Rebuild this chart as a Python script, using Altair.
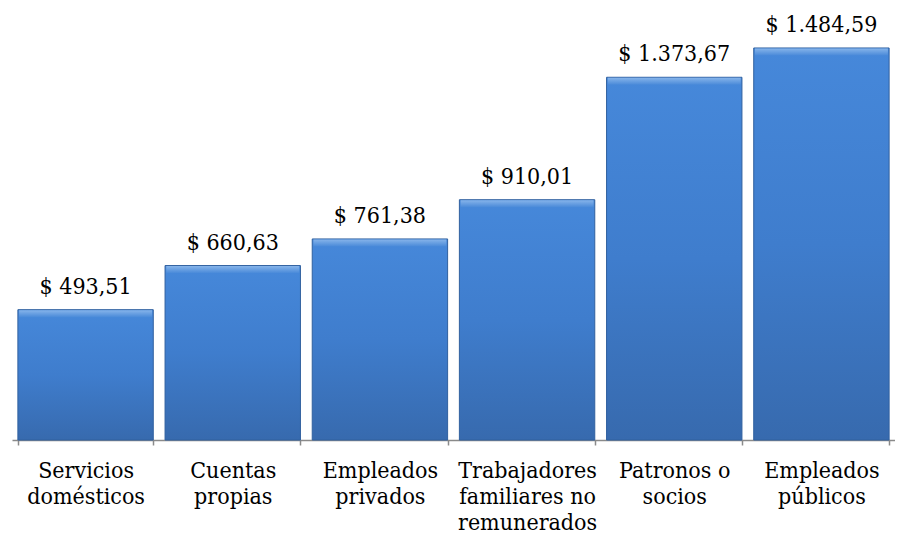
import altair as alt
import pandas as pd

categories = [
    "Servicios\ndomésticos",
    "Cuentas\npropias",
    "Empleados\nprivados",
    "Trabajadores\nfamiliares no\nremunerados",
    "Patronos o\nsocios",
    "Empleados\npúblicos",
]
values = [493.51, 660.63, 761.38, 910.01, 1373.67, 1484.59]
value_labels = ["$ 493,51", "$ 660,63", "$ 761,38", "$ 910,01", "$ 1.373,67", "$ 1.484,59"]

df = pd.DataFrame({"cat": categories, "val": values, "lab": value_labels})

FONT = "DejaVu Serif Condensed"

x = alt.X(
    "cat:N",
    sort=None,
    title=None,
    scale=alt.Scale(paddingInner=0.08, paddingOuter=0.04),
    axis=alt.Axis(
        labelExpr="split(datum.label, '\\n')",
        labelAngle=0,
        labelFont=FONT,
        labelFontSize=23,
        labelLineHeight=26,
        labelColor="#000000",
        labelPadding=14,
        labelLimit=0,
        tickBand="extent",
        tickSize=5,
        tickColor="#8a8a8a",
        tickWidth=1.5,
        domainColor="#8a8a8a",
        domainWidth=1.5,
    ),
)
y = alt.Y(
    "val:Q",
    title=None,
    scale=alt.Scale(domain=[0, 1636], nice=False, zero=True),
    axis=None,
)

base = alt.Chart(df)

bars = base.mark_bar(
    color=alt.Gradient(
        gradient="linear",
        x1=0, y1=0, x2=0, y2=1,
        stops=[
            alt.GradientStop(color="#4688da", offset=0),
            alt.GradientStop(color="#3f7dcd", offset=0.5),
            alt.GradientStop(color="#376aae", offset=1),
        ],
    ),
    stroke="#30609f",
    strokeWidth=1,
).encode(x=x, y=y)

bevel = base.mark_tick(
    thickness=7,
    size=133,
    yOffset=4,
    opacity=1,
    color=alt.Gradient(
        gradient="linear",
        x1=0, y1=0, x2=0, y2=1,
        stops=[
            alt.GradientStop(color="#86b4ea", offset=0),
            alt.GradientStop(color="#4a8ad9", offset=1),
        ],
    ),
).encode(x=x, y=y)

texts = base.mark_text(
    font=FONT,
    fontSize=23,
    color="#000000",
    baseline="alphabetic",
    dy=-16,
).encode(x=x, y=y, text="lab:N")

chart = (
    alt.layer(bars, bevel, texts)
    .properties(
        width=883,
        height=432,
        autosize=alt.AutoSizeParams(type="none"),
        padding={"left": 4, "top": 0, "right": 0, "bottom": 96},
        background="#ffffff",
    )
    .configure_view(stroke=None)
)

chart.save("out.html", embed_options={"renderer": "svg", "actions": False})
